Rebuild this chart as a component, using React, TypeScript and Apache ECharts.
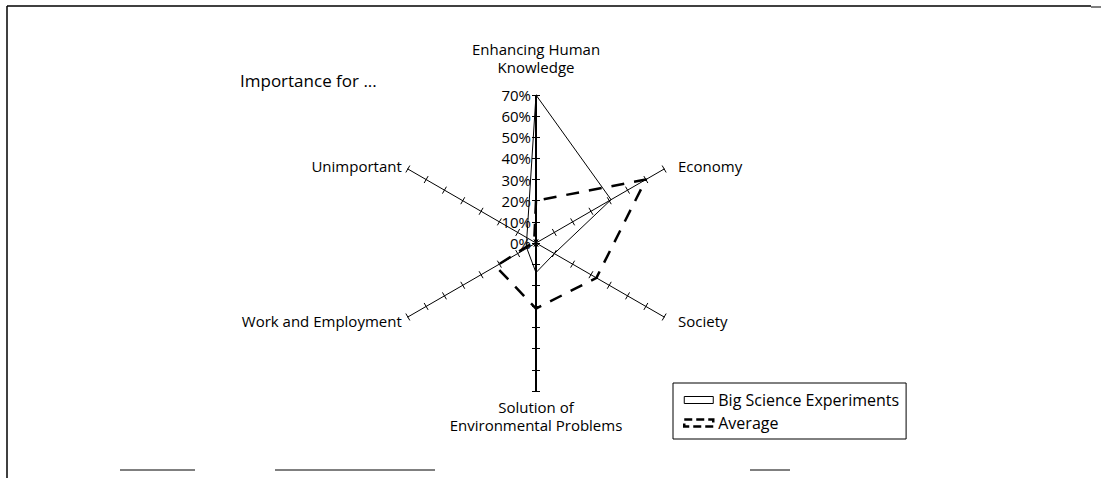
import React, { useEffect, useRef } from "react";
import * as echarts from "echarts";

const axisNames = [
  "Enhancing Human\nKnowledge",
  "Unimportant",
  "Work and Employment",
  "Solution of\nEnvironmental Problems",
  "Society",
  "Economy",
];
const axisMax = 70;
const bigScience = [70, 5, 5, 14, 10, 41];
const average = [20, 1, 22, 31, 33, 60];
const seriesNames = ["Big Science Experiments", "Average"];
const titleText = "Importance for ...";

const FONT = "Open Sans";
const CENTER: [number, number] = [536, 243];
const RADIUS = 148;

export default function App() {
  const ref = useRef<HTMLDivElement>(null);
  useEffect(() => {
    if (!ref.current) return;
    const chart = echarts.init(ref.current, undefined, { renderer: "svg" });
    const indicators = axisNames.map((name, i) => ({
      name,
      min: 0,
      max: axisMax,
      ...(i === 0 ? { axisLabel: { show: true } } : {}),
    }));
    const tickOnly = axisNames.map((name) => ({ name, min: 0, max: axisMax }));
    const nameFormatter = (value: string) => {
      const idx = axisNames.indexOf(value);
      if (idx === 0) return value + "\n{gap| }";
      if (idx === 4 || idx === 5) return "  " + value;
      return value;
    };
    const baseRadar = {
      center: CENTER,
      radius: RADIUS,
      startAngle: 90,
      splitNumber: 7,
      shape: "polygon",
      splitLine: { show: false },
      splitArea: { show: false },
    };
    chart.setOption({
      animation: false,
      backgroundColor: "#fff",
      title: {
        text: titleText,
        left: 235,
        top: 67,
        textStyle: { fontFamily: FONT, fontSize: 17, fontWeight: "normal", color: "#000" },
      },
      legend: {
        orient: "vertical",
        left: 673,
        top: 383,
        padding: [8, 7, 7, 10],
        itemGap: 5,
        itemWidth: 29,
        itemHeight: 7,
        borderColor: "#000",
        borderWidth: 1,
        textStyle: { fontFamily: FONT, fontSize: 16, lineHeight: 18, color: "#000" },
        data: [
          {
            name: seriesNames[0],
            icon: "rect",
            itemStyle: { color: "#fff", borderColor: "#000", borderWidth: 1 },
          },
          {
            name: seriesNames[1],
            icon: "rect",
            itemStyle: { color: "#fff", borderColor: "#000", borderWidth: 2.5, borderType: [8, 4] },
          },
        ],
      },
      radar: [
        {
          ...baseRadar,
          indicator: indicators,
          nameGap: 7,
          axisName: {
            color: "#000",
            fontFamily: FONT,
            fontSize: 15,
            lineHeight: 18,
            formatter: nameFormatter,
            rich: { gap: { fontSize: 1, lineHeight: 12 } },
          },
          axisLine: { show: true, lineStyle: { color: "#000", width: 1 } },
          axisTick: { show: true, length: 4, lineStyle: { color: "#000", width: 1 } },
          axisLabel: {
            show: false,
            color: "#000",
            fontFamily: FONT,
            fontSize: 15,
            margin: 5,
            formatter: "{value}%",
          },
        },
        {
          ...baseRadar,
          indicator: tickOnly,
          axisName: { show: false },
          axisLine: { show: false },
          axisTick: { show: true, length: -4, lineStyle: { color: "#000", width: 1 } },
          axisLabel: { show: false },
        },
      ],
      series: [
        {
          type: "radar",
          radarIndex: 0,
          symbol: "none",
          silent: true,
          data: [
            {
              name: seriesNames[0],
              value: bigScience,
              lineStyle: { color: "#000", width: 1, type: "solid" },
              itemStyle: { color: "#000" },
            },
            {
              name: seriesNames[1],
              value: average,
              lineStyle: { color: "#000", width: 2.5, type: [13, 10] },
              itemStyle: { color: "#000" },
            },
          ],
        },
      ],
      graphic: [
        {
          type: "line",
          z: -1,
          shape: { x1: CENTER[0], y1: CENTER[1] - RADIUS, x2: CENTER[0], y2: CENTER[1] + RADIUS },
          style: { stroke: "#000", lineWidth: 2 },
        },
        { type: "line", shape: { x1: 7, y1: 6, x2: 1091, y2: 6 }, style: { stroke: "#000", lineWidth: 1.5 } },
        { type: "line", shape: { x1: 1091, y1: 7, x2: 1101, y2: 7 }, style: { stroke: "#000", lineWidth: 1 } },
        { type: "line", shape: { x1: 7, y1: 6, x2: 7, y2: 478 }, style: { stroke: "#000", lineWidth: 1.5 } },
        { type: "line", shape: { x1: 120, y1: 470, x2: 195, y2: 470 }, style: { stroke: "#000", lineWidth: 1 } },
        { type: "line", shape: { x1: 275, y1: 470, x2: 435, y2: 470 }, style: { stroke: "#000", lineWidth: 1 } },
        { type: "line", shape: { x1: 750, y1: 470, x2: 790, y2: 470 }, style: { stroke: "#000", lineWidth: 1 } },
      ],
    });
    return () => chart.dispose();
  }, []);
  return (
    <div
      ref={ref}
      style={{ position: "fixed", left: 0, top: 0, width: 1101, height: 478, background: "#fff" }}
    />
  );
}
